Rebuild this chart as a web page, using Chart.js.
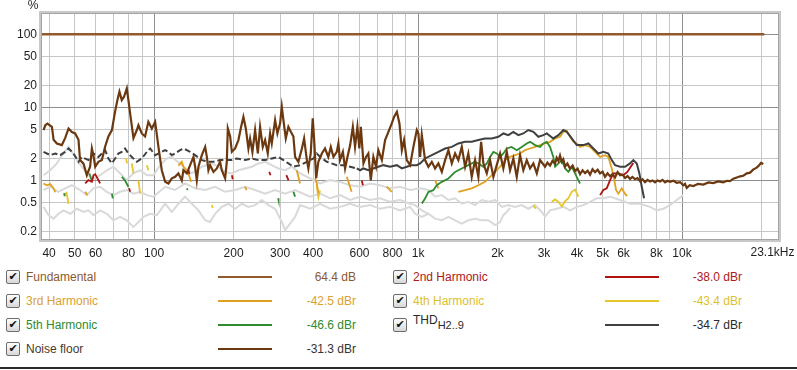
<!DOCTYPE html>
<html>
<head>
<meta charset="utf-8">
<script src="https://cdn.jsdelivr.net/npm/chart.js@4.4.1/dist/chart.umd.min.js"></script>
<style>
  html, body { margin: 0; padding: 0; background: #fff; }
  #wrap { position: relative; width: 797px; height: 370px; overflow: hidden;
          font-family: "Liberation Sans", Arial, sans-serif; font-size: 12px; }
  #chart { position: absolute; left: 0; top: 0; }
  .cb { position: absolute; width: 12px; height: 12px; border: 1px solid #6d6d6d; border-radius: 2px;
        background: linear-gradient(#fdfdfd, #d8d8d8); font-size: 11px; line-height: 12px;
        text-align: center; color: #111; font-family: "DejaVu Sans", sans-serif; }
  .lbl { position: absolute; white-space: nowrap; line-height: 14px; }
  .lbl sub { font-size: 11px; vertical-align: -5px; }
  .smp { position: absolute; height: 2px; width: 54px; }
  .val { position: absolute; white-space: nowrap; line-height: 14px; text-align: right; width: 120px; }
  #rule { position: absolute; left: 0; top: 367px; width: 797px; height: 2px; background: #2a2a2a; }
</style>
</head>
<body>
<div id="wrap">
  <canvas id="chart" width="797" height="262"></canvas>
  <div id="legend"></div>
  <div id="rule"></div>
</div>
<script>
// axes
const xTickValues = [40, 50, 60, 70, 80, 90, 100, 200, 300, 400, 500, 600, 700, 800, 900,
  1000, 2000, 3000, 4000, 5000, 6000, 7000, 8000, 9000, 10000, 20000];
const xTickText = ['40', '50', '60', '', '80', '', '100', '200', '300', '400', '', '600', '', '800', '',
  '1k', '2k', '3k', '4k', '5k', '6k', '', '8k', '', '10k', ''];
const yTickValues = [0.2, 0.5, 1, 2, 5, 10, 20, 50, 100];
const yTickText = ['0.2', '0.5', '1', '2', '5', '10', '20', '50', '100'];

// fundamental, %
const fundF = [37.6, 20500];
const fundV = [100, 100];

// noise floor, %
const noiseF = [
  38.1, 38.7, 39.4, 41.0, 41.6, 42.8, 44.7, 46.0, 47.4, 48.8,
  50.2, 51.7, 52.4, 54.0, 55.6, 57.2, 58.1, 58.9, 59.8, 61.5,
  63.4, 65.2, 67.1, 69.2, 71.1, 72.6, 73.9, 75.4, 76.9, 78.8,
  79.9, 81.1, 83.5, 86.0, 87.2, 89.8, 92.4, 95.1, 98.0, 100.9,
  103.8, 106.9, 110.1, 113.3, 116.7, 120.1, 123.6, 127.3, 129.1, 133.0,
  136.9, 140.9, 143.0, 145.1, 147.2, 151.6, 156.1, 158.4, 160.6, 163.0,
  167.8, 172.8, 177.8, 180.4, 185.8, 188.5, 190.2, 194.1, 197.0, 202.7,
  208.6, 213.6, 217.9, 222.5, 227.6, 231.0, 235.7, 241.3, 247.1, 252.0,
  258.0, 263.3, 269.5, 275.0, 279.1, 287.3, 293.1, 300.1, 304.6, 308.9,
  315.4, 322.6, 327, 337, 342, 352, 363, 370, 379, 384,
  392, 399, 404, 411, 419, 432, 444, 457, 467, 478,
  492, 499, 506, 519, 529, 540, 553, 566, 577, 589,
  599, 607, 621, 635, 648, 662, 677, 693, 707, 729,
  750, 772, 795, 811, 831, 850, 868, 885, 906, 933,
  960, 989, 1003, 1018, 1033, 1063, 1094, 1127, 1160, 1194,
  1230, 1266, 1303, 1342, 1381, 1421, 1464, 1507, 1550, 1597,
  1644, 1692, 1733, 1768, 1821, 1874, 1929, 1986, 2045, 2104,
  2168, 2231, 2296, 2365, 2434, 2505, 2581, 2656, 2734, 2817,
  2899, 3027, 3090, 3162, 3230, 3304, 3350, 3401, 3450, 3503,
  3550, 3606, 3680, 3766, 3850, 3934, 4020, 4109, 4200, 4292,
  4390, 4483, 4580, 4683, 4790, 4892, 5000, 5109, 5220, 5337,
  5450, 5575, 5700, 5824, 5950, 6082, 6220, 6353, 6490, 6637,
  6780, 6933, 7080, 7240, 7400, 7564, 7730, 7900, 8080, 8254,
  8440, 8622, 8810, 9006, 9280, 9548, 9830, 10110, 10260, 10420,
  10700, 11040, 11500, 12040, 12600, 13140, 13700, 14340, 14800, 15200,
  15650, 16120, 16600, 17070, 17600, 18100, 18650, 19190, 19600, 19920, 20320
];
const noiseV = [
  4.9, 5.7, 6.0, 5.4, 3.6, 3.2, 3.05, 3.8, 5.15, 4.6,
  4.4, 3.6, 1.9, 1.7, 1.18, 1.54, 2.74, 2.2, 1.54, 1.8,
  1.9, 2.9, 4.0, 4.9, 8.7, 12.6, 16.4, 12.6, 14.0, 18.2,
  12.6, 8.3, 3.8, 4.9, 5.7, 4.4, 4.0, 6.35, 5.15, 6.35,
  2.9, 1.38, 0.96, 0.91, 1.07, 1.12, 1.25, 1.0, 1.38, 1.25,
  1.62, 2.1, 1.54, 1.0, 1.54, 2.22, 2.88, 2.1, 1.38, 1.62,
  1.31, 1.46, 1.8, 1.38, 1.07, 1.8, 5.15, 4.0, 2.46, 2.74,
  3.57, 5.42, 7.4, 5.15, 2.74, 3.76, 2.46, 4.9, 2.34, 5.42,
  2.88, 3.57, 2.34, 4.4, 3.21, 6.7, 4.4, 6.04, 10.2, 6.7,
  3.76, 5.42, 4.9, 4.0, 2.1, 1.8, 2.74, 3.76, 1.9, 1.46,
  2.34, 7.07, 3.57, 1.07, 1.8, 2.34, 2.74, 2.1, 2.88, 2.1,
  2.46, 3.21, 1.9, 2.46, 1.46, 2.1, 3.05, 5.42, 2.88, 5.42,
  2.74, 5.42, 1.71, 2.1, 2.34, 1.0, 2.1, 1.54, 2.6, 1.9,
  3.57, 4.63, 6.04, 7.4, 8.7, 6.04, 2.6, 3.57, 1.9, 1.62,
  2.88, 4.9, 4.4, 2.1, 4.2, 1.9, 1.54, 1.8, 1.46, 1.71,
  1.31, 1.9, 2.6, 1.71, 2.34, 1.9, 2.88, 1.54, 2.34, 1.12,
  1.9, 1.12, 3.38, 1.71, 1.25, 1.9, 1.12, 1.62, 2.34, 1.46,
  2.46, 1.38, 2.0, 1.12, 2.22, 1.38, 1.9, 1.46, 1.71, 1.25,
  1.9, 1.54, 1.75, 1.6, 1.85, 1.7, 2.05, 1.85, 2.2, 1.8,
  1.95, 1.55, 1.7, 1.45, 1.6, 1.35, 1.45, 1.22, 1.38, 1.26,
  1.36, 1.2, 1.42, 1.3, 1.4, 1.25, 1.32, 1.12, 1.25, 1.14,
  1.22, 1.1, 1.3, 1.18, 1.2, 1.08, 1.15, 1.05, 1.12, 1.04,
  1.08, 0.98, 1.04, 0.95, 1.02, 0.97, 1.0, 0.94, 1.0, 0.97,
  1.02, 0.94, 0.99, 0.96, 0.99, 0.93, 0.95, 0.86, 0.9, 0.79,
  0.86, 0.84, 0.9, 0.88, 0.94, 0.92, 0.97, 0.94, 0.99, 0.98,
  1.06, 1.1, 1.14, 1.16, 1.25, 1.28, 1.42, 1.5, 1.62, 1.74, 1.68
];

// THD H2..9, %
const thdF = [
  38.1, 40.4, 42.2, 44.1, 46.0, 47.4, 49.5, 51.7, 53.2, 56.4,
  58.9, 61.5, 63.4, 65.2, 67.1, 69.2, 73.2, 75.4, 77.6, 79.9,
  82.3, 86.0, 89.8, 93.8, 96.6, 100.9, 110.1, 113.3, 116.7, 120.1,
  125.4, 129.1, 133.0, 136.9, 143.0, 151.6, 160.6, 167.8, 177.8, 188.5,
  197.0, 205.7, 221.2, 234.5, 248.3, 263.3, 279.1, 295.7, 308.9, 322.6,
  337.0, 357.3, 379, 401.3, 413.4, 425.5, 451.1, 492, 521.2, 553,
  585.9, 603.1, 621, 648, 677, 707, 738.8, 783, 831, 868,
  906, 946.5, 989, 1018, 1063, 1127, 1194, 1266, 1342, 1421,
  1507, 1597, 1692, 1794, 1902, 2015, 2104, 2198, 2296, 2399,
  2505, 2617, 2734, 2856, 2983, 3073, 3254, 3401, 3552, 3659,
  3822, 3992, 4228, 4417, 4613, 4819, 5034, 5258, 5417, 5575,
  5824, 6082, 6353, 6541, 6738, 6893, 7038, 7182
];
const thdV = [
  2.46, 2.22, 2.34, 2.22, 2.46, 2.74, 2.34, 1.8, 2.1, 1.9,
  2.34, 2.1, 2.34, 2.6, 2.0, 1.71, 2.34, 2.46, 2.74, 2.34,
  2.1, 1.8, 2.0, 2.46, 2.74, 2.22, 2.6, 2.46, 2.22, 2.34,
  2.6, 2.74, 2.6, 2.46, 2.22, 1.9, 1.8, 1.8, 1.9, 1.9,
  1.9, 2.0, 1.9, 2.0, 1.9, 1.9, 2.0, 2.1, 1.9, 1.71,
  1.54, 1.62, 1.8, 2.0, 2.34, 2.1, 1.8, 1.62, 1.62, 1.54,
  1.46, 1.38, 1.46, 1.38, 1.46, 1.54, 1.62, 1.54, 1.62, 1.46,
  1.54, 1.62, 1.62, 1.71, 2.0, 2.22, 2.46, 2.74, 2.88, 3.21,
  3.38, 3.38, 3.57, 3.76, 3.76, 3.96, 4.4, 4.17, 4.63, 4.17,
  4.4, 4.9, 4.63, 3.96, 4.17, 4.4, 3.76, 4.17, 4.9, 4.63,
  3.76, 3.05, 3.05, 3.21, 2.74, 2.34, 2.46, 2.34, 1.9, 1.62,
  1.54, 1.54, 1.71, 1.9, 1.71, 1.25, 0.82, 0.57
];

// harmonics, % (null = gap)
const h2F = [54.8, 56.4, 58.1, 58.9, 59.8, 61.5, 62.4, 63, 80.4, 81.1, 82, 134.9, 136, 137,
  197, 198.6, 199, 273, 276, 278, 317, 323, 325, 612, 618, 620,
  4892, 5034, 5185, 5337, 5494, 5737, 5993, 6206, 6393, 6541];
const h2V = [0.91, 1.01, 0.96, 1.18, 1.22, 1.01, 0.91, null, 0.78, 0.70, null, 1.38, 1.22, null,
  1.18, 1.04, null, 1.31, 1.18, null, 1.18, 1.0, null, 1.0, 0.86, null,
  0.63, 0.74, 0.78, 1.01, 1.25, 1.25, 1.18, 1.31, 1.54, 1.74];

const h3F = [38.1, 39.2, 40.4, 41.6, 42.2, 42.5, 54.8, 55.9, 56.2,
  123.6, 127.3, 129.1, 134.9, 138.1, 139, 221, 224, 226, 347, 357, 360,
  407, 413, 419, 421, 537, 560, 565, 761, 795, 800, 1160, 1194, 1200,
  1421, 1507, 1597, 1692, 1794, 1874, 1958, 2045, 2136, 2231,
  2330, 2434, 2543, 2656, 2775, 2899, 3027, 3162, 3304, 3451,
  3552, 3659, 3766, 3876, 3992, 4109, 4292, 4483, 4683, 4892,
  5109, 5258, 5417, 5527, 5623, 5737, 5910, 6082, 6190];
const h3V = [0.91, 0.86, 0.89, 0.78, 0.69, null, 0.70, 0.63, null,
  1.6, 1.8, 1.54, 1.25, 0.96, null, 0.82, 0.74, null, 1.38, 0.91, null,
  1.07, 0.92, 0.67, null, 1.12, 0.70, null, 0.82, 0.70, null, 1.01, 0.78, null,
  0.70, 0.736, 0.78, 0.86, 0.957, 1.12, 1.31, 1.54, 1.9, 2.1,
  2.22, 2.34, 2.6, 2.74, 2.88, 3.05, 3.21, 3.38, 3.76, 3.96,
  4.63, 4.78, 3.96, 3.38, 3.21, 2.88, 3.05, 2.88, 2.46, 2.1,
  2.22, 2.1, 1.46, 1.065, 0.74, 0.66, 0.78, 0.66, 0.61];

const h4F = [46.5, 47.4, 48, 78.3, 79.0, 80, 82.3, 83.5, 84, 87.2, 88.5, 89, 93.8, 95.1, 96,
  165, 167, 168, 413, 419, 425, 430, 2734, 2790, 2800,
  3209, 3304, 3401, 3503, 3606, 3710, 3822, 3934, 4049];
const h4V = [0.70, 0.48, null, 2.0, 1.71, null, 1.71, 1.25, null, 1.0, 0.66, null, 1.62, 1.38, null,
  0.46, 0.42, null, 0.86, 0.59, 0.73, null, 0.46, 0.41, null,
  0.51, 0.55, 0.51, 0.44, 0.52, 0.57, 0.70, 0.75, 0.60];

const h5F = [45.6, 45.8, 46, 56.9, 57.6, 58.2, 58.5, 69.2, 69.7, 70, 75.4, 77.6, 79.9, 80.5,
  133, 134, 135, 295, 296, 297, 337, 342, 345,
  1033, 1063, 1094, 1142, 1177, 1230, 1303, 1381, 1464, 1550,
  1644, 1692, 1768, 1821, 1874, 1929, 1986, 2045, 2104, 2168,
  2261, 2365, 2469, 2581, 2656, 2775, 2899, 2983, 3073, 3162,
  3254, 3304, 3401, 3503, 3606, 3710, 3822, 3934, 4049, 4109];
const h5V = [0.67, 0.61, null, 1.25, 1.065, 1.0, null, 0.66, 0.57, null, 1.12, 1.0, 0.82, null,
  0.78, 0.74, null, 0.57, 0.54, null, 0.7, 0.6, null,
  0.484, 0.567, 0.698, 0.736, 0.862, 0.957, 1.065, 1.31, 1.46, 1.62,
  1.8, 1.71, 1.54, 1.71, 2.1, 2.46, 2.34, 2.1, 2.34, 2.74,
  2.88, 2.6, 2.88, 3.21, 3.38, 3.05, 2.88, 3.21, 3.38, 2.88,
  2.1, 1.54, 1.71, 1.9, 1.46, 1.31, 1.54, 1.25, 1.0, 0.91];

// light grey traces, %
const g1F = [38.1, 40.4, 42.8, 45.3, 47.4, 48.8, 51.0, 53.2, 56.4, 58.9,
  62.4, 66.2, 70.1, 74.3, 78.8, 83.5, 88.5, 93.8, 99.4, 105.4,
  111.7, 116.7, 127.3, 138.9, 151.6, 165.4, 175.2, 185.8, 197.0, 208.6,
  221.2, 234.5, 248.3, 263.3, 279.1, 295.7, 313.5, 332.3, 357.3, 389.8,
  425.5, 464.2, 506, 553, 603, 658, 718, 783, 855, 933,
  1018, 1094, 1160, 1230, 1303, 1381, 1464, 1550, 1644, 1743,
  1847, 1958, 2075, 2198, 2330, 2469, 2617, 2775, 2942, 3027,
  3162, 3354, 3552, 3766, 3992, 4228, 4483, 4753, 5034, 5337,
  5824, 6353, 6933, 7564, 8020, 8496, 9006, 9548, 10110];
const g1V = [1.18, 1.38, 1.71, 2.34, 2.88, 2.46, 1.9, 1.54, 1.18, 1.065,
  1.18, 1.38, 1.54, 1.25, 1.01, 1.25, 1.38, 1.18, 1.18, 1.62,
  2.0, 2.1, 1.62, 1.25, 1.54, 1.71, 1.54, 1.31, 1.25, 1.38,
  1.46, 1.54, 1.71, 1.8, 1.62, 1.46, 1.38, 1.54, 1.25, 1.065,
  0.91, 1.01, 0.957, 0.86, 0.82, 0.91, 0.86, 0.78, 0.82, 0.74,
  0.78, 0.74, 0.60, 0.63, 0.54, 0.57, 0.48, 0.51, 0.46, 0.54,
  0.51, 0.54, 0.435, 0.46, 0.435, 0.46, 0.41, 0.46, 0.37, 0.32,
  0.39, 0.41, 0.435, 0.39, 0.435, 0.46, 0.51, 0.57, 0.57, 0.60,
  0.54, 0.48, 0.48, 0.435, 0.39, 0.41, 0.46, 0.54, 0.63];

const g2F = [38.1, 40.4, 43.4, 46.0, 48.8, 52.4, 55.6, 58.9, 62.4, 66.2,
  70.1, 74.3, 78.8, 83.5, 88.5, 93.8, 99.4, 110.1, 120.1, 131,
  143.0, 156.1, 170.2, 185.8, 202.7, 221.2, 241.3, 263.3, 287.3, 313.5,
  342.0, 389.8, 425.5, 464.2, 506, 553, 603, 658, 718, 783,
  855, 933, 974, 1033, 1094];
const g2V = [0.74, 0.82, 0.70, 0.78, 0.86, 0.74, 0.63, 0.78, 0.82, 0.70,
  0.63, 0.70, 0.74, 0.66, 0.70, 0.63, 0.60, 0.82, 0.74, 0.91,
  0.78, 0.74, 0.82, 0.70, 0.74, 0.82, 0.74, 0.66, 0.74, 0.66,
  0.74, 0.60, 0.66, 0.57, 0.63, 0.54, 0.60, 0.54, 0.57, 0.51,
  0.54, 0.48, 0.46, 0.39, 0.35];

const g3F = [38.1, 39.8, 41.6, 43.4, 45.3, 48.1, 51.0, 54.0, 56.4, 58.9,
  62.4, 66.2, 70.1, 74.3, 78.8, 83.5, 87.2, 91.1, 96.6, 102.4,
  110.1, 116.7, 123.6, 131, 138.9, 147.2, 156.1, 163.0, 170.2, 180.4,
  191.1, 202.7, 214.9, 227.6, 241.3, 255.8, 271, 287.3, 304.6, 313.5,
  327.4, 342.0, 357.3, 389.8, 425.5, 464.2, 506, 553, 603, 658,
  718, 783, 855, 933, 974, 1033, 1094, 1160, 1230, 1303,
  1381, 1464, 1550, 1644, 1743, 1847, 1958, 2045, 2104, 2168, 2231];
const g3V = [0.435, 0.335, 0.30, 0.35, 0.39, 0.35, 0.41, 0.37, 0.39, 0.335,
  0.39, 0.35, 0.285, 0.317, 0.285, 0.23, 0.27, 0.317, 0.35, 0.335,
  0.48, 0.37, 0.48, 0.60, 0.48, 0.39, 0.285, 0.27, 0.35, 0.435,
  0.48, 0.41, 0.48, 0.435, 0.46, 0.54, 0.46, 0.41, 0.27, 0.21,
  0.257, 0.317, 0.46, 0.41, 0.48, 0.41, 0.435, 0.48, 0.435, 0.46,
  0.41, 0.435, 0.39, 0.435, 0.35, 0.317, 0.35, 0.30, 0.285, 0.317,
  0.285, 0.257, 0.285, 0.30, 0.285, 0.285, 0.245, 0.27, 0.335, 0.37, 0.42];

// legend rows
const legendNames = ['Fundamental', '2nd Harmonic', '3rd Harmonic', '4th Harmonic', '5th Harmonic', 'THD', 'Noise floor'];
const legendValues = ['64.4 dB', '-38.0 dBr', '-42.5 dBr', '-43.4 dBr', '-46.6 dBr', '-34.7 dBr', '-31.3 dBr'];

const C = {
  fund: '#94592a', noise: '#6b3810', thd: '#404040', h2: '#b01010',
  h3: '#e0a020', h4: '#e6c62c', h5: '#2e8b2e', grey: '#d9d9d9'
};
const legendLine = [C.fund, C.h2, C.h3, C.h4, C.h5, C.thd, C.noise];
const legendText = ['#8a5a30', '#b01818', '#dca030', '#dcc030', '#2e8b2e', '#2a2a2a', '#4a3a2a'];
const legendValText = ['#8a5a30', '#b01818', '#dca030', '#dcc030', '#2e8b2e', '#2a2a2a', '#333333'];

function pts(f, v) {
  return f.map((x, i) => ({ x: x, y: v[i] }));
}

function line(label, f, v, color, width, extra) {
  return Object.assign({
    label: label, data: pts(f, v), borderColor: color, borderWidth: width,
    pointRadius: 0, fill: false, tension: 0, spanGaps: false
  }, extra || {});
}

const FONT = '"Liberation Sans", Arial, sans-serif';

const frame = {
  id: 'frame',
  beforeDraw(chart) {
    const ctx = chart.ctx;
    ctx.save();
    ctx.fillStyle = '#fff';
    ctx.fillRect(0, 0, chart.width, chart.height);
    ctx.restore();
  },
  afterDatasetsDraw(chart) {
    const a = chart.chartArea;
    const ctx = chart.ctx;
    ctx.save();
    ctx.strokeStyle = '#c8c8c8';
    ctx.lineWidth = 3;
    ctx.strokeRect(a.left - 1.5, a.top - 1.5, a.right - a.left + 3, a.bottom - a.top + 3);
    ctx.strokeStyle = '#a4a4a4';
    ctx.lineWidth = 1;
    ctx.strokeRect(a.left - 0.5, a.top - 0.5, a.right - a.left + 1, a.bottom - a.top + 1);
    ctx.fillStyle = '#1e1e1e';
    ctx.font = '12px ' + FONT;
    ctx.textBaseline = 'middle';
    ctx.textAlign = 'center';
    ctx.fillText('%', a.left - 9, 6);
    ctx.textAlign = 'left';
    const x20k = chart.scales.x.getPixelForValue(20000);
    ctx.fillText('23.1kHz', x20k - 11, a.bottom + 14);
    ctx.restore();
  }
};

new Chart(document.getElementById('chart'), {
  type: 'line',
  data: {
    datasets: [
      line('Fundamental', fundF, fundV, C.fund, 2.5),
      line('Noise floor', noiseF, noiseV, C.noise, 2.2),
      line('THD', thdF, thdV, C.thd, 2, {
        segment: { borderDash: (c) => (c.p0.parsed.x < 560 ? [6, 3] : []) }
      }),
      line('2nd Harmonic', h2F, h2V, C.h2, 1.8),
      line('5th Harmonic', h5F, h5V, C.h5, 1.8),
      line('3rd Harmonic', h3F, h3V, C.h3, 1.8),
      line('4th Harmonic', h4F, h4V, C.h4, 1.8),
      line('g1', g1F, g1V, C.grey, 2),
      line('g2', g2F, g2V, C.grey, 2),
      line('g3', g3F, g3V, C.grey, 2)
    ]
  },
  options: {
    responsive: false,
    animation: false,
    devicePixelRatio: 1,
    layout: { padding: { top: 14, right: 19, left: 0, bottom: 0 } },
    plugins: { legend: { display: false }, tooltip: { enabled: false } },
    scales: {
      x: {
        type: 'logarithmic',
        min: 37.6,
        max: 23100,
        afterBuildTicks: (s) => { s.ticks = xTickValues.map((v) => ({ value: v })); },
        afterFit: (s) => { s.height = 23; },
        ticks: {
          autoSkip: false, maxRotation: 0, minRotation: 0, padding: 7,
          color: '#1e1e1e', font: { family: FONT, size: 12 },
          callback: (v, i) => xTickText[i]
        },
        grid: {
          drawTicks: false, lineWidth: 1,
          color: (c) => ([100, 1000, 10000].includes(c.tick && c.tick.value) ? '#8e8e8e' : '#c6c6c6')
        },
        border: { display: false }
      },
      y: {
        type: 'logarithmic',
        min: 0.158,
        max: 190,
        afterBuildTicks: (s) => { s.ticks = yTickValues.map((v) => ({ value: v })); },
        afterFit: (s) => { s.width = 42; },
        ticks: {
          autoSkip: false, padding: 5,
          color: '#1e1e1e', font: { family: FONT, size: 12 },
          callback: (v, i) => yTickText[i]
        },
        grid: {
          drawTicks: false, lineWidth: 1,
          color: (c) => ([1, 10, 100].includes(c.tick && c.tick.value) ? '#8e8e8e' : '#c6c6c6')
        },
        border: { display: false }
      }
    }
  },
  plugins: [frame]
});

// legend below the plot
const legendCols = [
  { box: 6, label: 26, sample: 218, valueRight: 356 },
  { box: 393, label: 413, sample: 605, valueRight: 742 }
];
const legendRowsY = [277, 301, 325, 349];
const legendPlace = [[0, 0], [1, 0], [0, 1], [1, 1], [0, 2], [1, 2], [0, 3]];

const legendEl = document.getElementById('legend');
legendNames.forEach((name, i) => {
  const col = legendCols[legendPlace[i][0]];
  const y = legendRowsY[legendPlace[i][1]];
  const cb = document.createElement('div');
  cb.className = 'cb';
  cb.style.left = col.box + 'px';
  cb.style.top = (y - 7) + 'px';
  cb.textContent = '\u2714';
  legendEl.appendChild(cb);

  const lb = document.createElement('div');
  lb.className = 'lbl';
  lb.style.left = col.label + 'px';
  lb.style.color = legendText[i];
  if (name === 'THD') {
    lb.style.top = (y - 12) + 'px';
    lb.innerHTML = 'THD<sub>H2..9</sub>';
  } else {
    lb.style.top = (y - 7) + 'px';
    lb.textContent = name;
  }
  legendEl.appendChild(lb);

  const sm = document.createElement('div');
  sm.className = 'smp';
  sm.style.left = col.sample + 'px';
  sm.style.top = (y - 1) + 'px';
  sm.style.background = legendLine[i];
  legendEl.appendChild(sm);

  const vl = document.createElement('div');
  vl.className = 'val';
  vl.style.left = (col.valueRight - 120) + 'px';
  vl.style.top = (y - 7) + 'px';
  vl.style.color = legendValText[i];
  vl.textContent = legendValues[i];
  legendEl.appendChild(vl);
});
</script>
</body>
</html>
